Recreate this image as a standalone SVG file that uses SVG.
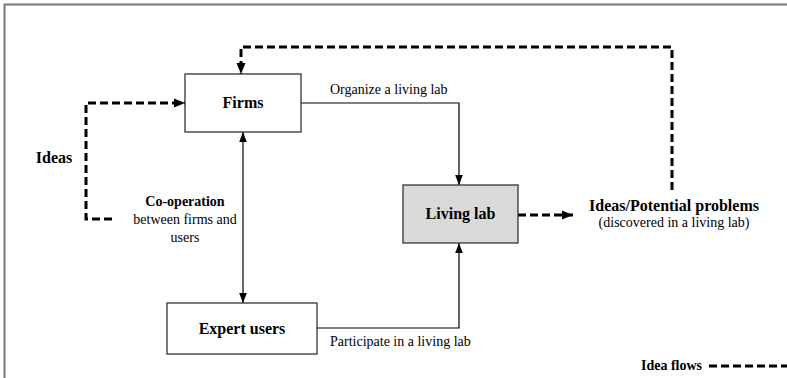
<svg xmlns="http://www.w3.org/2000/svg" width="787" height="378" viewBox="0 0 787 378">
<style>
.box{stroke:#333;stroke-width:1.3;fill:#fff}
.gray{fill:#d9d9d9}
.lbl{font-family:"Liberation Serif",serif;font-weight:bold;font-size:16px;fill:#000;text-anchor:middle}
.t{font-family:"Liberation Serif",serif;font-size:14px;fill:#000}
.tb{font-family:"Liberation Serif",serif;font-size:14px;font-weight:bold;fill:#000}
.solid{fill:none;stroke:#000;stroke-width:1.2}
.dash{fill:none;stroke:#000;stroke-width:3;stroke-dasharray:8 4}
.frame{fill:none;stroke:#777;stroke-width:2}
</style>
<defs>
<marker id="a" markerUnits="userSpaceOnUse" markerWidth="10" markerHeight="10" viewBox="0 0 10 10" refX="10" refY="5" orient="auto">
<path d="M0,1.2 L10,5 L0,8.8 Z" fill="#000"/>
</marker>
<marker id="as" markerUnits="userSpaceOnUse" markerWidth="10" markerHeight="10" viewBox="0 0 10 10" refX="0" refY="5" orient="auto">
<path d="M10,1.2 L0,5 L10,8.8 Z" fill="#000"/>
</marker>
<marker id="d" markerUnits="userSpaceOnUse" markerWidth="11" markerHeight="11" viewBox="0 0 11 11" refX="11" refY="5.5" orient="auto">
<path d="M0,1 L11,5.5 L0,10 Z" fill="#000"/>
</marker>
</defs>
<path class="frame" d="M4.5,378 V4.5 H787"/>
<g id="connectors">
<path class="solid" d="M301,103 H459 V185" marker-end="url(#a)"/>
<path class="solid" d="M317,328 H459 V243" marker-end="url(#a)"/>
<path class="solid" d="M243,132 V303" marker-start="url(#as)" marker-end="url(#a)"/>
<path class="dash" d="M112,219 H86 V103 H185" marker-end="url(#d)"/>
<path class="dash" d="M672,190 V47 H241 V74" marker-end="url(#d)"/>
<path class="dash" d="M518,215 H573" marker-end="url(#d)"/>
<path class="dash" d="M709,366 H787"/>
<text class="t" x="330" y="94">Organize a living lab</text>
<text class="t" x="330" y="346">Participate in a living lab</text>
<text class="tb" x="185" y="206" text-anchor="middle">Co-operation</text>
<text class="t" x="185" y="224" text-anchor="middle">between firms and</text>
<text class="t" x="185" y="242" text-anchor="middle">users</text>
</g>
<g id="firms">
<rect class="box" x="185" y="74" width="116" height="58"/>
<text class="lbl" x="243" y="108">Firms</text>
</g>
<g id="living-lab">
<rect class="box gray" x="403" y="185" width="115" height="58"/>
<text class="lbl" x="460.5" y="219">Living lab</text>
</g>
<g id="expert-users">
<rect class="box" x="167" y="303" width="150" height="51"/>
<text class="lbl" x="242" y="334">Expert users</text>
</g>
<g id="ideas">
<text class="lbl" x="54" y="163">Ideas</text>
</g>
<g id="ideas-problems">
<text class="lbl" x="674" y="211">Ideas/Potential problems</text>
<text class="t" x="674" y="227" text-anchor="middle">(discovered in a living lab)</text>
</g>
<g id="legend">
<text class="tb" x="641" y="370">Idea flows</text>
</g>
</svg>
